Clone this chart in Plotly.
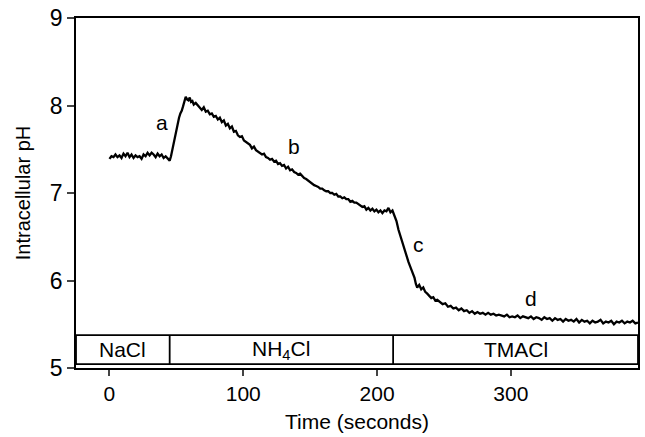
import plotly.graph_objects as go

time_s = [0, 1.5, 3, 4.5, 6, 7.5, 9, 10.5, 12, 13.5, 15, 16.5, 18, 19.5, 21, 22.5, 24, 25.5, 27, 28.5,
          30, 31.5, 33, 34.5, 36, 37.5, 39, 40.5, 42, 43.5, 45,
          46, 47, 48, 49, 50, 51, 52, 53, 54, 55, 56, 57, 58, 59, 60, 61, 62, 63, 64.5, 66, 67.5, 69,
          70.5, 72, 73.5, 75, 76.5, 78, 79.5, 81, 82.5, 84, 85.5, 87, 88.5, 90, 91.5, 93, 94.5, 96,
          97.5, 99, 100.5, 102, 103.5, 105, 106.5, 108, 109.5, 111, 112.5, 114, 115.5, 117, 118.5,
          120, 121.5, 123, 124.5, 126, 127.5, 129, 130.5, 132, 133.5, 135, 136.5, 138, 139.5, 141,
          142.5, 144, 145.5, 147, 148.5, 150, 151.5, 153, 154.5, 156, 157.5, 159, 160.5, 162, 163.5,
          165, 166.5, 168, 169.5, 171, 172.5, 174, 175.5, 177, 178.5, 180, 181.5, 183, 184.5, 186,
          187.5, 189, 190.5, 192, 193.5, 195, 196.5, 198, 199.5, 201, 202.5, 204, 205.5, 207, 208.5,
          210, 211.5, 213, 214.5, 216, 217.5, 219, 220.5, 222, 223.5, 225, 226.5, 228, 229, 230,
          231.5, 233, 234.5, 236, 237.5, 239, 240.5, 242, 243.5, 245, 247, 249, 251, 253, 255, 257,
          259, 261, 263, 265, 267, 269, 271, 273, 275, 277, 279, 281, 283, 285, 287, 289, 291, 293,
          295, 297, 299, 301, 303, 305, 307, 309, 311, 313, 315, 317, 319, 321, 323, 325, 327, 329,
          331, 333, 335, 337, 339, 341, 343, 345, 347, 349, 351, 353, 355, 357, 359, 361, 363, 365,
          367, 369, 371, 373, 375, 377, 379, 381, 383, 385, 387, 389, 391, 393, 395]

ph = [7.39, 7.42, 7.41, 7.44, 7.41, 7.43, 7.40, 7.45, 7.42, 7.46, 7.41, 7.44, 7.40, 7.43, 7.41, 7.42,
      7.39, 7.44, 7.42, 7.46, 7.43, 7.46, 7.44, 7.41, 7.45, 7.42, 7.44, 7.40, 7.42, 7.39, 7.37,
      7.42, 7.50, 7.58, 7.66, 7.74, 7.80, 7.86, 7.91, 7.94, 7.99, 8.05, 8.10, 8.07, 8.06, 8.09, 8.04,
      8.05, 8.01, 8.03, 8.00, 7.97, 7.95, 7.98, 7.93, 7.94, 7.90, 7.91, 7.87, 7.88, 7.84, 7.86, 7.81,
      7.83, 7.77, 7.79, 7.74, 7.76, 7.70, 7.71, 7.66, 7.64, 7.65, 7.60, 7.58, 7.56, 7.55, 7.51, 7.53,
      7.49, 7.47, 7.46, 7.44, 7.45, 7.41, 7.40, 7.38, 7.39, 7.36, 7.37, 7.33, 7.34, 7.31, 7.32, 7.28,
      7.30, 7.26, 7.27, 7.24, 7.23, 7.21, 7.22, 7.19, 7.17, 7.16, 7.14, 7.13, 7.11, 7.09, 7.08, 7.07,
      7.05, 7.05, 7.03, 7.02, 7.02, 7.00, 7.00, 6.98, 6.99, 6.96, 6.96, 6.94, 6.95, 6.93, 6.93, 6.90,
      6.91, 6.89, 6.89, 6.87, 6.86, 6.84, 6.85, 6.81, 6.83, 6.80, 6.82, 6.79, 6.81, 6.78, 6.80, 6.77,
      6.80, 6.79, 6.83, 6.78, 6.80, 6.74, 6.68, 6.58, 6.50, 6.42, 6.34, 6.27, 6.21, 6.15, 6.09, 6.03,
      5.96, 5.92, 5.95, 5.90, 5.92, 5.87, 5.85, 5.83, 5.80, 5.81, 5.77, 5.78, 5.75, 5.73, 5.74, 5.70,
      5.71, 5.68, 5.69, 5.66, 5.68, 5.65, 5.66, 5.63, 5.65, 5.62, 5.64, 5.62, 5.63, 5.61, 5.63, 5.61,
      5.62, 5.60, 5.61, 5.60, 5.59, 5.61, 5.58, 5.59, 5.58, 5.60, 5.57, 5.59, 5.58, 5.57, 5.59, 5.56,
      5.58, 5.57, 5.55, 5.58, 5.56, 5.57, 5.54, 5.57, 5.55, 5.56, 5.53, 5.56, 5.54, 5.55, 5.53, 5.56,
      5.52, 5.55, 5.53, 5.54, 5.51, 5.54, 5.52, 5.53, 5.55, 5.51, 5.53, 5.52, 5.54, 5.50, 5.53, 5.52,
      5.54, 5.51, 5.53, 5.52, 5.54, 5.51, 5.52]

# point labels
label_text = ["a", "b", "c", "d"]
label_t = [39.5, 138, 231, 315]
label_ph = [7.81, 7.53, 6.41, 5.80]

# solution bar
band_names = ["NaCl", "NH<sub>4</sub>Cl", "TMACl"]
band_starts = [-25, 45, 212]
band_ends = [45, 212, 395]
band_bottom = 5.045
band_top = 5.375

x_ticks = [0, 100, 200, 300]
y_ticks = [5, 6, 7, 8, 9]

FONT = "Liberation Sans, Arial, Helvetica, sans-serif"

fig = go.Figure()
fig.add_trace(go.Scatter(x=time_s, y=ph, mode="lines",
                         line=dict(color="black", width=2.3), showlegend=False,
                         hoverinfo="skip"))

for txt, tx, ty in zip(label_text, label_t, label_ph):
    fig.add_annotation(x=tx, y=ty, text=txt, showarrow=False,
                       font=dict(family=FONT, size=21, color="black"))

# band box
fig.add_shape(type="rect", x0=band_starts[0], x1=band_ends[-1], y0=band_bottom, y1=band_top,
              xref="x", yref="y", line=dict(color="black", width=1.8), fillcolor="white", layer="above")
for s in band_starts[1:]:
    fig.add_shape(type="line", x0=s, x1=s, y0=band_bottom, y1=band_top, xref="x", yref="y",
                  line=dict(color="black", width=1.8), layer="above")
for name, s, e in zip(band_names, band_starts, band_ends):
    fig.add_annotation(x=(s + e) / 2, y=(band_bottom + band_top) / 2, text=name, showarrow=False,
                       font=dict(family=FONT, size=21, color="black"))

fig.update_layout(
    width=645, height=437,
    margin=dict(l=76, r=5, t=16, b=69),
    paper_bgcolor="white", plot_bgcolor="white",
    font=dict(family=FONT, size=21, color="black"),
    xaxis=dict(range=[-25, 395], tickvals=x_ticks, ticks="outside", ticklen=6, tickwidth=1.8,
               showline=True, linecolor="black", linewidth=1.8, mirror=True, showgrid=False,
               zeroline=False, title=dict(text="Time (seconds)", font=dict(size=21), standoff=10),
               tickfont=dict(size=21)),
    yaxis=dict(range=[5, 9], tickvals=y_ticks, ticks="outside", ticklen=7, tickwidth=1.8,
               showline=True, linecolor="black", linewidth=1.8, mirror=True, showgrid=False,
               zeroline=False, title=dict(text="Intracellular pH", font=dict(size=20), standoff=14),
               tickfont=dict(size=23)),
)

fig.write_html("out.html")
